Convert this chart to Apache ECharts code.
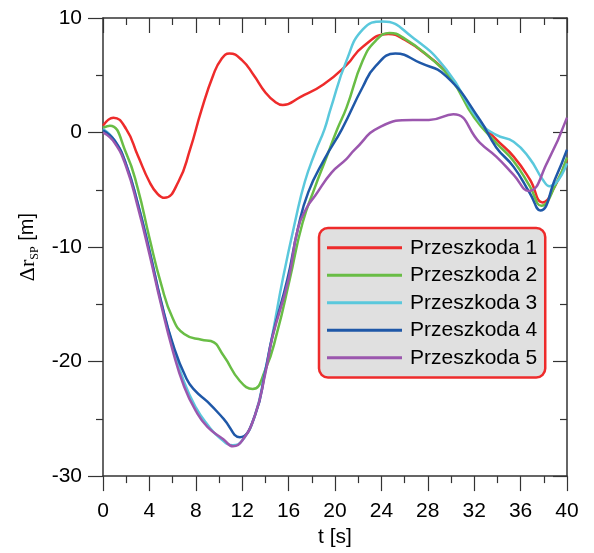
<!DOCTYPE html>
<html>
<head>
<meta charset="utf-8">
<script src="https://cdn.jsdelivr.net/npm/echarts@6/dist/echarts.min.js"></script>
<style>
html,body{margin:0;padding:0;background:#fff;}
#chart{width:594px;height:553px;}
</style>
</head>
<body>
<div id="chart"></div>
<script>
var xTicks = [0,4,8,12,16,20,24,28,32,36,40];
var yTicks = [-30,-20,-10,0,10];
var seriesNames = ['Przeszkoda 1','Przeszkoda 2','Przeszkoda 3','Przeszkoda 4','Przeszkoda 5'];

// Przeszkoda 1
var t1 = [0,0.9,2,3,4,4.7,5.3,6.5,7.5,8.5,9.5,10.2,10.9,12,13,14,14.8,15.5,17,19,21,22.4,24.6,26,28,30,32,33.9,35.4,36.8,37.9,39,40];
var v1 = [0.6,1.3,0.3,-2.0,-4.3,-5.35,-5.7,-4.3,-1.5,2.0,5.0,6.4,6.9,6.3,5.0,3.5,2.7,2.4,3.1,4.2,5.9,7.5,8.6,8.1,6.7,4.8,1.5,-0.6,-2.1,-4.1,-6.1,-4.6,-2.3];
// Przeszkoda 2
var t2 = [0,0.6,2,3,4,5,6,7,8.5,9.3,10.4,11.8,12.9,14,15,16.1,17.2,18.3,19.1,20.2,21,22.4,23.5,24.7,26,28,30,32,33.9,35.4,36.8,37.8,39,40];
var v2 = [0.4,0.6,-1.8,-4.9,-9.2,-13.2,-16.2,-17.6,-18.1,-18.2,-19.5,-21.7,-22.4,-20.7,-17.5,-12.8,-7.9,-4.7,-2.6,0.3,2.2,6.3,8.0,8.7,8.2,6.7,4.7,1.3,-0.9,-2.5,-4.7,-6.4,-4.6,-2.2];
// Przeszkoda 3
var t3 = [0,1,2,3,4,5,6,7,8,9,10,11.2,12,13.1,14,14.6,15.5,16.6,17.4,18.3,19.1,19.6,21,22.4,24.1,26.7,29.6,32.5,33.9,35.4,36.8,37.9,38.5,40];
var v3 = [0.3,-0.7,-2.8,-6.2,-10.3,-14.8,-18.6,-21.8,-24.0,-25.5,-26.6,-27.3,-26.9,-24.7,-20.7,-17.7,-12.8,-7.6,-4.3,-1.7,0.3,2.0,6.3,9.0,9.7,8.3,5.5,0.9,-0.2,-0.8,-2.3,-4.1,-4.7,-2.7];
// Przeszkoda 4
var t4 = [0,1,2,3,4,5,6,7.2,8,9,10.4,11.8,13.1,14,14.6,15.9,16.8,17.7,19.1,20.6,22.4,23.5,25.2,27.3,29.6,32.5,33.9,35.4,36.8,37.7,39,40];
var v4 = [0.2,-0.7,-2.8,-6.2,-10.3,-14.7,-18.4,-21.5,-22.6,-23.5,-25.0,-26.6,-24.7,-20.8,-17.8,-12.8,-8.4,-5.2,-2.3,0.3,4.0,5.8,6.9,6.1,4.9,1.1,-1.3,-3.0,-5.3,-6.8,-4.0,-1.5];
// Przeszkoda 5
var t5 = [0,1,2,3,4,5,6,7,8,9,10.4,11.2,12,13.1,14,14.6,16,16.8,17.6,18.3,19.7,21,21.7,23.9,26.7,28.1,30.2,32.5,33.9,35.4,36.7,38.3,40];
var v5 = [0.0,-0.9,-3.0,-6.5,-10.6,-15.0,-19.0,-22.2,-24.3,-25.7,-26.8,-27.4,-26.9,-24.7,-21.0,-17.9,-12.8,-8.4,-6.5,-5.5,-3.5,-2.3,-1.5,0.5,1.1,1.1,1.6,-0.9,-2.1,-3.7,-5.1,-2.6,1.3];

var colors = ['#ee2b2b','#69bd45','#5ac8dc','#1f58a8','#9b57ae'];
var allT = [t1,t2,t3,t4,t5];
var allV = [v1,v2,v3,v4,v5];

function pairs(ts, vs){ return ts.map(function(t,i){ return [t, vs[i]]; }); }

var axisLine = {show:true, onZero:false, lineStyle:{color:'#333', width:1.5}};
var series = allV.map(function(v,i){
  return {
    name: seriesNames[i], type:'line', data: pairs(allT[i], v), smooth: true,
    symbol:'none', xAxisIndex:0, yAxisIndex:0,
    lineStyle:{color:colors[i], width:2.5}, itemStyle:{color:colors[i]}
  };
});

var chart = echarts.init(document.getElementById('chart'), null, {renderer:'canvas'});
chart.setOption({
  backgroundColor:'#fff',
  animation:false,
  grid:{left:103, top:18, width:464, height:460},
  xAxis:[{
    type:'value', min:xTicks[0], max:xTicks[xTicks.length-1], interval:4, position:'bottom',
    axisLine:axisLine, splitLine:{show:false},
    axisTick:{show:true, inside:false, length:15, lineStyle:{color:'#333', width:1.2}},
    minorTick:{show:true, splitNumber:2, length:7, lineStyle:{color:'#333', width:1.2}},
    axisLabel:{color:'#000', fontSize:21, fontFamily:'Liberation Sans', margin:25},
    name:'t [s]', nameLocation:'middle', nameGap:44,
    nameTextStyle:{color:'#000', fontSize:21, fontFamily:'Liberation Sans'}
  },{
    type:'value', min:0, max:40, interval:4, position:'top',
    axisLine:axisLine, splitLine:{show:false},
    axisTick:{show:true, inside:true, length:15, lineStyle:{color:'#333', width:1.2}},
    minorTick:{show:true, splitNumber:2, length:7, lineStyle:{color:'#333', width:1.2}},
    axisLabel:{show:false}
  }],
  yAxis:[{
    type:'value', min:yTicks[0], max:yTicks[yTicks.length-1], interval:10, position:'left',
    axisLine:axisLine, splitLine:{show:false},
    axisTick:{show:true, inside:false, length:15, lineStyle:{color:'#333', width:1.2}},
    minorTick:{show:true, splitNumber:2, length:7, lineStyle:{color:'#333', width:1.2}},
    axisLabel:{color:'#000', fontSize:21, fontFamily:'Liberation Sans', margin:21},
    name:'{a|\u0394r}{b|SP}{c| [m]}', nameLocation:'middle', nameGap:62, nameRotate:90,
    nameTextStyle:{
      color:'#000',
      rich:{
        a:{fontFamily:'Liberation Serif', fontSize:22, lineHeight:26, verticalAlign:'middle', color:'#000'},
        b:{fontFamily:'Liberation Serif', fontSize:12, lineHeight:26, verticalAlign:'bottom', color:'#000'},
        c:{fontFamily:'Liberation Sans', fontSize:20, lineHeight:26, verticalAlign:'middle', color:'#000'}
      }
    }
  },{
    type:'value', min:-30, max:10, interval:10, position:'right',
    axisLine:axisLine, splitLine:{show:false},
    axisTick:{show:true, inside:true, length:14, lineStyle:{color:'#333', width:1.2}},
    minorTick:{show:true, splitNumber:2, length:7, lineStyle:{color:'#333', width:1.2}},
    axisLabel:{show:false}
  }],
  legend:{
    orient:'vertical', left:319, top:228,
    data: seriesNames.map(function(n){ return {name:n, icon:'rect'}; }),
    backgroundColor:'#e0e0e0', borderColor:'#ee2b2b', borderWidth:2.5, borderRadius:9,
    padding:[6,8,6,8],
    itemWidth:75, itemHeight:3, itemGap:0,
    textStyle:{color:'#000', fontSize:21, fontFamily:'Liberation Sans', lineHeight:27.5, padding:[0,0,0,3]}
  },
  series: series
});
</script>
</body>
</html>
